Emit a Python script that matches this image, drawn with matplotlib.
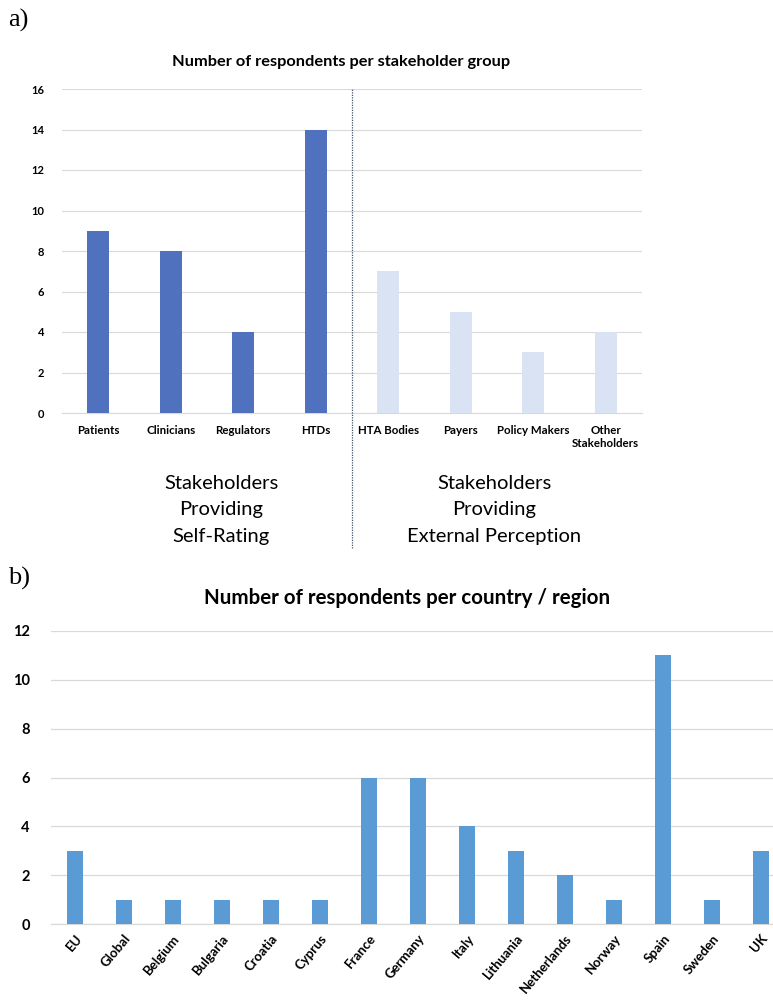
import matplotlib
matplotlib.use("Agg")
import matplotlib.pyplot as plt

plt.rcParams['font.family'] = ['Lato', 'DejaVu Sans']

groups = ["Patients", "Clinicians", "Regulators", "HTDs",
          "HTA Bodies", "Payers", "Policy Makers", "Other\nStakeholders"]
group_counts = [9, 8, 4, 14, 7, 5, 3, 4]
self_rating = [True, True, True, True, False, False, False, False]

countries = ["EU", "Global", "Belgium", "Bulgaria", "Croatia", "Cyprus", "France",
             "Germany", "Italy", "Lithuania", "Netherlands", "Norway", "Spain",
             "Sweden", "UK"]
country_counts = [3, 1, 1, 1, 1, 1, 6, 6, 4, 3, 2, 1, 11, 1, 3]

top_ticks = [0, 2, 4, 6, 8, 10, 12, 14, 16]
bottom_ticks = [0, 2, 4, 6, 8, 10, 12]

dark_blue = "#4F71BE"
light_blue = "#DAE3F3"
mid_blue = "#5B9BD5"
grid_col = "#D9D9D9"

fig = plt.figure(figsize=(7.73, 10), dpi=100)

# ---------- Panel a ----------
ax1 = fig.add_axes([62/773, 1-413/1000, 580/773, 324/1000])
xs = list(range(len(groups)))
cols = [dark_blue if s else light_blue for s in self_rating]
ax1.bar(xs, group_counts, width=0.31, color=cols, zorder=3)
ax1.set_xlim(-0.5, len(groups)-0.5)
ax1.set_ylim(0, 16)
ax1.set_yticks(top_ticks)
ax1.set_yticklabels([str(t) for t in top_ticks], fontsize=8, fontweight='bold')
ax1.set_xticks(xs)
ax1.set_xticklabels(groups, fontsize=8.3, fontweight='bold', linespacing=1.15, va='top')
ax1.tick_params(axis='both', length=0)
ax1.tick_params(axis='y', pad=13)
ax1.tick_params(axis='x', pad=9)
ax1.grid(axis='y', color=grid_col, linewidth=0.8, zorder=0)
for sp in ['top', 'right', 'left']:
    ax1.spines[sp].set_visible(False)
ax1.spines['bottom'].set_color(grid_col)
ax1.spines['bottom'].set_linewidth(0.8)
fig.text(341/773, 1-62/1000, "Number of respondents per stakeholder group",
         ha='center', va='center', fontsize=11.8, fontweight='bold')
ax1.axvline(3.5, ymin=-0.417, ymax=1.0, color="#44546A", linestyle=(0, (1, 1)),
            linewidth=0.9, clip_on=False, zorder=4)

fig.text(221/773, 1-510/1000, "Stakeholders\nProviding\nSelf-Rating",
         ha='center', va='center', fontsize=14.5, linespacing=1.65)
fig.text(494/773, 1-510/1000, "Stakeholders\nProviding\nExternal Perception",
         ha='center', va='center', fontsize=14.5, linespacing=1.65)

fig.text(8/773, 1-20/1000, "a)", fontsize=19, family='Liberation Serif',
         ha='left', va='center')
fig.text(8/773, 1-578/1000, "b)", fontsize=19, family='Liberation Serif',
         ha='left', va='center')

# ---------- Panel b ----------
ax2 = fig.add_axes([50.5/773, 1-924/1000, 735/773, 293/1000])
xs2 = list(range(len(countries)))
ax2.bar(xs2, country_counts, width=0.32, color=mid_blue, zorder=3)
ax2.set_xlim(-0.5, len(countries)-0.5)
ax2.set_ylim(0, 12)
ax2.set_yticks(bottom_ticks)
ax2.set_yticklabels([str(t) for t in bottom_ticks], fontsize=10.5, fontweight='bold')
ax2.set_xticks(xs2)
ax2.set_xticklabels(countries, fontsize=9.5, fontweight='bold', rotation=50,
                    ha='right', rotation_mode='anchor')
ax2.tick_params(axis='both', length=0)
ax2.tick_params(axis='y', pad=15)
ax2.tick_params(axis='x', pad=6)
ax2.grid(axis='y', color=grid_col, linewidth=0.9, zorder=0)
for sp in ['top', 'right', 'left']:
    ax2.spines[sp].set_visible(False)
ax2.spines['bottom'].set_color(grid_col)
ax2.spines['bottom'].set_linewidth(0.9)
fig.text(407/773, 1-598/1000, "Number of respondents per country / region",
         ha='center', va='center', fontsize=14.8, fontweight='bold')

fig.savefig("out.png", dpi=100)
